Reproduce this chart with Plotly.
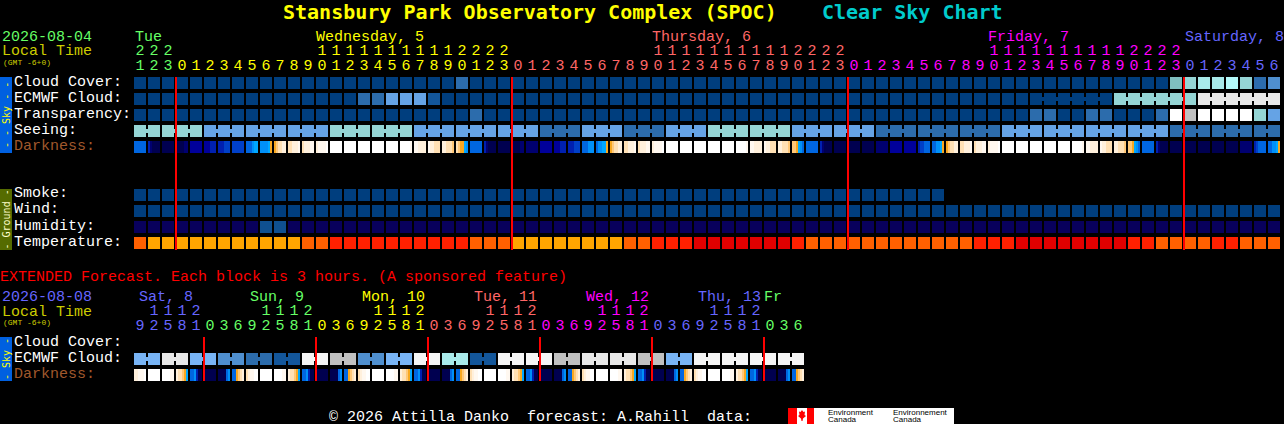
import plotly.graph_objects as go

# ---------------- data ----------------
main_hours = [21, 22, 23,
              0, 1, 2, 3, 4, 5, 6, 7, 8, 9, 10, 11, 12, 13, 14, 15, 16, 17, 18, 19, 20, 21, 22, 23,
              0, 1, 2, 3, 4, 5, 6, 7, 8, 9, 10, 11, 12, 13, 14, 15, 16, 17, 18, 19, 20, 21, 22, 23,
              0, 1, 2, 3, 4, 5, 6, 7, 8, 9, 10, 11, 12, 13, 14, 15, 16, 17, 18, 19, 20, 21, 22, 23,
              0, 1, 2, 3, 4, 5, 6]
ext_hours = [9, 12, 15, 18, 21,
             0, 3, 6, 9, 12, 15, 18, 21,
             0, 3, 6, 9, 12, 15, 18, 21,
             0, 3, 6, 9, 12, 15, 18, 21,
             0, 3, 6, 9, 12, 15, 18, 21,
             0, 3, 6, 9, 12, 15, 18, 21,
             0, 3, 6]

cloud_cover = [0, 0, 0, 0, 0, 0, 0, 0, 0, 0,
               0, 0, 0, 0, 0, 0, 0, 0, 0, 0,
               0, 0, 0, 2, 0, 0, 0, 0, 0, 0,
               0, 0, 0, 0, 0, 0, 0, 0, 0, 0,
               0, 0, 0, 0, 0, 0, 0, 0, 0, 0,
               0, 0, 0, 0, 0, 0, 0, 0, 0, 0,
               0, 0, 0, 0, 0, 0, 0, 0, 0, 0,
               0, 0, 0, 0, 7, 6, 8, 8, 9, 6, 2, 3]
ecmwf_cloud = [0, 0, 0, 0, 0, 0, 0, 0, 0, 0,
               0, 0, 0, 0, 0, 0, 2, 2, 4, 4,
               4, 1, 0, 0, 0, 0, 0, 0, 0, 0,
               0, 0, 0, 0, 0, 0, 0, 0, 0, 0,
               0, 0, 0, 0, 0, 0, 0, 0, 0, 0,
               0, 0, 0, 0, 0, 0, 0, 0, 0, 0,
               0, 0, 0, 0, 0, 0, 0, 0, 0, 0,
               6, 6, 6, 6, 6, 6, 11, 11, 11, 11, 11, 11]
ecmwf_runs = [1] * 64 + [6, 6, 6]
transparency = [0, 0, 0, 0, 0, 0, 0, 0, 0, 0,
                0, 0, 0, 0, 0, 0, 0, 0, 0, 0,
                0, 0, 0, 0, 2, 0, 0, 0, 0, 0,
                0, 0, 0, 0, 0, 0, 0, 0, 0, 0,
                0, 0, 0, 0, 0, 0, 0, 0, 0, 0,
                0, 0, 0, 0, 0, 0, 0, 0, 0, 0,
                0, 0, 0, 0, 2, 2, 0, 0, 2, 2,
                0, 0, 0, 2, 13, 10, 13, 13, 13, 13, 6, 4]
seeing = [6, 6,
          6, 6, 6, 4, 4, 4, 4, 4, 4, 4, 4, 4,
          6, 6, 6, 6, 6, 6, 4, 4, 4, 4, 4, 4,
          4, 4, 4, 2, 2, 2, 4, 4, 4, 2, 2, 2,
          4, 4, 4, 6, 6, 6, 6, 6, 6, 4, 4, 4,
          4, 4, 4, 2, 2, 2, 2, 2, 2, 2, 2, 2,
          4, 4, 4, 4, 4, 4, 4, 4, 4, 4, 4, 4,
          2, 2, 2, 2, 2, 2, 2, 2]
seeing_runs = [2] + [3] * 26 + [2]
darkness = """
eeeeee cmnnnn nnnnnn nnnnmm bbbbbb bbbccc cccddd dddddd eeefgg ffffgo opqqrr qqrrrs
qrrrss rssssw wwwwww wwwwww wwwwww wwwwww wwwwww wwwwws ssrrrr srrqqq rrqqqp qpoogf
eeeeee cmnnnn nnnnnn nnnnmm mmmmmm bbbbbb bbbccc cccddd eeefff effggo opqqrr qqrrrs
qrrrss rssssw wwwwww wwwwww wwwwww wwwwww wwwwww wwwwws ssrrrr srrqqq rrqqqp ppogfe
eeeeee cmnnnn nnnnnn nnnnnn nnnnnn mmmmmm bbbbbb bbbbbb cddeee eeffgo opqqrr qqrrrs
qrrrss rssssw wwwwww wwwwww wwwwww wwwwww wwwwww wwwwws ssrrrr srrqqq rrqqqp ppogfe
eeeeee cmnnnn nnnnnn nnnnnn nnnnnn nnnnnn nnnnnn mmmmmm cdeeee eeffgo
""".split()
smoke = [0] * 58
wind = [0, 0, 0, 0, 0, 0, 0, 0, 0, 0,
        0, 0, 0, 0, 0, 0, 0, 0, 0, 0,
        0, 0, 0, 0, 0, 0, 0, 0, 0, 0,
        0, 0, 0, 0, 0, 0, 0, 0, 0, 0,
        0, 0, 0, 0, 0, 0, 0, 0, 0, 0,
        0, 0, 0, 0, 0, 0, 0, 0, 0, 0,
        0, 0, 0, 0, 0, 0, 0, 0, 0, 0,
        0, 0, 0, 0, 0, 0, 0, 0, 0, 0, 0, 0]
humidity = [0, 0, 0, 0, 0, 0, 0, 0, 0, 1,
            1, 0, 0, 0, 0, 0, 0, 0, 0, 0,
            0, 0, 0, 0, 0, 0, 0, 0, 0, 0,
            0, 0, 0, 0, 0, 0, 0, 0, 0, 0,
            0, 0, 0, 0, 0, 0, 0, 0, 0, 0,
            0, 0, 0, 0, 0, 0, 0, 0, 0, 0,
            0, 0, 0, 0, 0, 0, 0, 0, 0, 0,
            0, 0, 0, 0, 0, 0, 0, 0, 0, 0, 0, 0]
temperature = [1, 0, 0, 0, 0, 0, 0, 0, 0, 0,
               0, 0, 1, 1, 2, 2, 2, 2, 2, 2,
               2, 2, 2, 2, 1, 1, 1, 0, 0, 0,
               0, 0, 0, 0, 0, 1, 1, 2, 2, 2,
               3, 3, 3, 3, 3, 3, 3, 2, 1, 1,
               1, 1, 1, 1, 1, 1, 1, 1, 1, 1,
               2, 2, 2, 3, 3, 3, 3, 3, 3, 3,
               3, 2, 2, 1, 1, 1, 1, 2, 2, 1, 1, 1]
ext_ecmwf_pairs = [5, 11, 5, 3, 2, 1, 12, 10, 3, 5, 12, 8,
                   1, 12, 12, 10, 11, 11, 10, 5, 12, 12, 12, 12]
ext_darkness = """
rrsssw wwwwww wwwwss rqqpog eefcnn nnnnnn nnnnef eeopqr
qrssww wwwwww wwwwss rqqpog eefcnn nnnnnn nnnnef eeopqr
qrssww wwwwww wwwwss rqqpog eefcnn nnnnnn nnnnef eeopqr
qrssww wwwwww wwwwss rqqpog eefcnn nnnnnn nnnnef eeopqr
qrssww wwwwww wwwwss rqqpog eefcnn nnnnnn nnnnef eeopqr
qrssww wwwwww wwwwss rqqpog eefcnn nnnnnn nnnnef eeopqr
""".split()

main_day_colors = ["#66ff66", "#ffff00", "#ff6666", "#ff00ff", "#6666ff"]
ext_day_colors = ["#6666ff", "#66ff66", "#ffff00", "#ff6666", "#ff00ff", "#6666ff", "#66ff66"]
main_day_labels = [("Tue", 135), ("Wednesday, 5", 316), ("Thursday, 6", 652),
                   ("Friday, 7", 988), ("Saturday, 8", 1185)]
ext_day_labels = [("Sat, 8", 139), ("Sun, 9", 250), ("Mon, 10", 362), ("Tue, 11", 474),
                  ("Wed, 12", 586), ("Thu, 13", 698), ("Fr", 764)]
sky_labels = ["Cloud Cover:", "ECMWF Cloud:", "Transparency:", "Seeing:", "Darkness:"]
ground_labels = ["Smoke:", "Wind:", "Humidity:", "Temperature:"]
ext_labels = ["Cloud Cover:", "ECMWF Cloud:", "Darkness:"]

assert len(main_hours) == 82 and len(ext_hours) == 48
for a in (cloud_cover, ecmwf_cloud, transparency, seeing, darkness, wind, humidity, temperature):
    assert len(a) == 82, len(a)
assert len(ext_darkness) == 48

# ---------------- styles ----------------
SKY = {0: "#003e7e", 1: "#13569a", 2: "#2c6cac", 3: "#4f8fcf", 4: "#65a3e5", 5: "#78b4f5",
       6: "#95d5d5", 7: "#7fbfbf", 8: "#a8eaea", 9: "#b4fafa", 10: "#c0c0c0", 11: "#e8e8e8",
       12: "#f5f5f5", 13: "#ffffff"}
HUM = {0: "#08005c", 1: "#0f5090"}
TEMP = {0: "#ffa500", 1: "#ff6000", 2: "#ff2000", 3: "#e00000"}
DARK = {"n": "#000050", "m": "#000070", "b": "#00009a", "c": "#0020b0", "d": "#0040c8",
        "e": "#0066e0", "f": "#0090f8", "g": "#00a8ff", "o": "#f8a820", "p": "#ffc878",
        "q": "#ffe0b4", "r": "#fff0dc", "s": "#fff8f0", "w": "#ffffff"}
MONO = "Liberation Mono"
TITLE = "DejaVu Sans Mono"
W, H = 1284, 424
PITCH_X, PITCH_Y = 14.0, 16.0
X0, Y0 = 134, 77
CELL_W = 12 / PITCH_X
CELL_H = 12 / PITCH_Y
THIN = 2.4 / PITCH_X


def ypos(py):
    return (py - Y0) / PITCH_Y


fig = go.Figure()


def add_bars(xs, widths, bases, heights, colors):
    fig.add_trace(go.Bar(x=list(xs), width=widths, base=bases, y=[heights] * len(xs),
                         marker=dict(color=colors, line=dict(width=0)),
                         hoverinfo="skip", showlegend=False))


def add_row(values, palette, top_px, runs=None):
    bases = ypos(top_px)
    add_bars([i + CELL_W / 2 for i in range(len(values))], CELL_W, bases, CELL_H,
             [palette[v] for v in values])
    if runs:
        pos = 0
        bx, bc = [], []
        for r in runs:
            for k in range(r - 1):
                bx.append(pos + k + 13 / 14)
                bc.append(palette[values[pos + k]])
            pos += r
        add_bars(bx, THIN, bases + 4 / PITCH_Y, 4 / PITCH_Y, bc)


def add_dark(tokens, top_px):
    xs, cs = [], []
    for i, tok in enumerate(tokens):
        for k, ch in enumerate(tok):
            xs.append(i + (2 * k + 1) / 14)
            cs.append(DARK[ch])
    add_bars(xs, THIN, ypos(top_px), CELL_H, cs)


def add_day_lines(hours, top_px, bottom_px):
    idx = [i for i, h in enumerate(hours) if h == 0]
    add_bars(idx, THIN, ypos(top_px), (bottom_px - top_px) / PITCH_Y, "#ff0000")


def add_hour_text(hours, day_colors, tens_y, ones_y):
    day = 0
    xs, cs = [], []
    for i, h in enumerate(hours):
        if h == 0 and i > 0:
            day += 1
        xs.append(i + CELL_W / 2)
        cs.append(day_colors[day])
    fig.add_trace(go.Scatter(
        x=[x for x, h in zip(xs, hours) if h >= 10], y=[ypos(tens_y)] * sum(h >= 10 for h in hours),
        text=[str(h // 10) for h in hours if h >= 10], mode="text", textposition="middle center",
        textfont=dict(family=MONO, size=15, color=[c for c, h in zip(cs, hours) if h >= 10]),
        hoverinfo="skip", showlegend=False, cliponaxis=False))
    fig.add_trace(go.Scatter(
        x=xs, y=[ypos(ones_y)] * len(xs), text=[str(h % 10) for h in hours],
        mode="text", textposition="middle center",
        textfont=dict(family=MONO, size=15, color=cs),
        hoverinfo="skip", showlegend=False, cliponaxis=False))


# main block rows
add_row(cloud_cover, SKY, 77)
add_row(ecmwf_cloud, SKY, 93, ecmwf_runs)
add_row(transparency, SKY, 109)
add_row(seeing, SKY, 125, seeing_runs)
add_dark(darkness, 141)
add_row(smoke, SKY, 189)
add_row(wind, SKY, 205)
add_row(humidity, HUM, 221)
add_row(temperature, TEMP, 237)
add_day_lines(main_hours, 77, 250)
add_hour_text(main_hours, main_day_colors, 51.5, 66.5)

# extended block rows
ext_cells = [v for v in ext_ecmwf_pairs for _ in (0, 1)]
add_row(ext_cells, SKY, 353, [2] * 24)
add_dark(ext_darkness, 369)
add_day_lines(ext_hours, 337, 381)
add_hour_text(ext_hours, ext_day_colors, 311.5, 326.5)


# text and decoration
def note(text, px, py, color="#ffffff", size=15, family=MONO, angle=0, anchor="left", bold=False):
    if bold:
        text = "<b>%s</b>" % text
    if size == 15:
        py += 1
    fig.add_annotation(text=text, x=px / W, y=1 - py / H, xref="paper", yref="paper",
                       xanchor=anchor, yanchor="middle", showarrow=False, textangle=angle,
                       font=dict(family=family, size=size, color=color), borderpad=0, borderwidth=0)


def box(x0, y0, x1, y1, color):
    fig.add_shape(type="rect", xref="paper", yref="paper", x0=x0 / W, x1=x1 / W,
                  y0=1 - y0 / H, y1=1 - y1 / H, fillcolor=color, line=dict(width=0), layer="below")


note("Stansbury Park Observatory Complex (SPOC)", 283, 12, "#ffff00", 20, TITLE, bold=True)
note("Clear Sky Chart", 822, 12, "#00cccc", 20, TITLE, bold=True)

note("2026-08-04", 2, 36, "#66ff66")
note("Local Time", 2, 51, "#cccc00")
note("(GMT -6+0)", 3, 62, "#cccc00", 8)
for (t, x), c in zip(main_day_labels, main_day_colors):
    note(t, x, 36, c)

for k, t in enumerate(sky_labels):
    note(t, 14, 81 + 16 * k, "#a0582c" if t == "Darkness:" else "#ffffff")
for k, t in enumerate(ground_labels):
    note(t, 14, 193 + 16 * k)

note("EXTENDED Forecast. Each block is 3 hours. (A sponsored feature)", 0, 276, "#ff0000")
note("2026-08-08", 2, 296, "#6666ff")
note("Local Time", 2, 311, "#cccc00")
note("(GMT -6+0)", 3, 322, "#cccc00", 8)
for (t, x), c in zip(ext_day_labels, ext_day_colors):
    note(t, x, 296, c)
for k, t in enumerate(ext_labels):
    note(t, 14, 341 + 16 * k, "#a0582c" if t == "Darkness:" else "#ffffff")

box(0, 77, 12, 153, "#0060e0")
box(0, 189, 12, 250, "#556b00")
box(0, 337, 12, 381, "#0060e0")
note("- - Sky - -", 6, 115, "#ffff00", 10, TITLE, angle=-90, anchor="center")
note("- Ground -", 6, 219.5, "#ffffcc", 10, TITLE, angle=-90, anchor="center")
note("- Sky -", 6, 359, "#ffff00", 10, TITLE, angle=-90, anchor="center")

note("\u00a9 2026 Attilla Danko\u00a0\u00a0forecast: A.Rahill\u00a0\u00a0data:", 329, 416, "#ffffff")

# logo
box(788, 408, 954, 424, "#ffffff")
box(788, 408, 797, 424, "#ff0000")
box(807, 408, 814, 424, "#ff0000")
leaf_px = [(802, 410), (803.5, 412), (805, 411.5), (804.5, 415), (806, 416), (803, 418.5), (802.5, 421),
           (801.5, 421), (801, 418.5), (798, 416), (799.5, 415), (799, 411.5), (800.5, 412)]
path = "M " + " L ".join("%.5f,%.5f" % (x / W, 1 - y / H) for x, y in leaf_px) + " Z"
fig.add_shape(type="path", path=path, xref="paper", yref="paper", fillcolor="#ff0000",
              line=dict(width=0), layer="below")
for t, x, y in [("Environment", 828, 412.5), ("Canada", 828, 419.5),
                ("Environnement", 893, 412.5), ("Canada", 893, 419.5)]:
    note(t, x, y, "#000000", 8, "Liberation Sans")

fig.update_layout(
    width=W, height=H, autosize=False, barmode="overlay", bargap=0, bargroupgap=0,
    margin=dict(l=0, r=0, t=0, b=0, pad=0),
    paper_bgcolor="#000000", plot_bgcolor="#000000",
    xaxis=dict(type="linear", range=[(0 - X0) / PITCH_X, (W - X0) / PITCH_X], visible=False, fixedrange=True),
    yaxis=dict(type="linear", range=[(H - Y0) / PITCH_Y, (0 - Y0) / PITCH_Y], visible=False, fixedrange=True),
    showlegend=False,
)

fig.write_html("out.html", config={"displayModeBar": False},
               post_script="document.body.style.margin='0';document.body.style.background='#000';")
